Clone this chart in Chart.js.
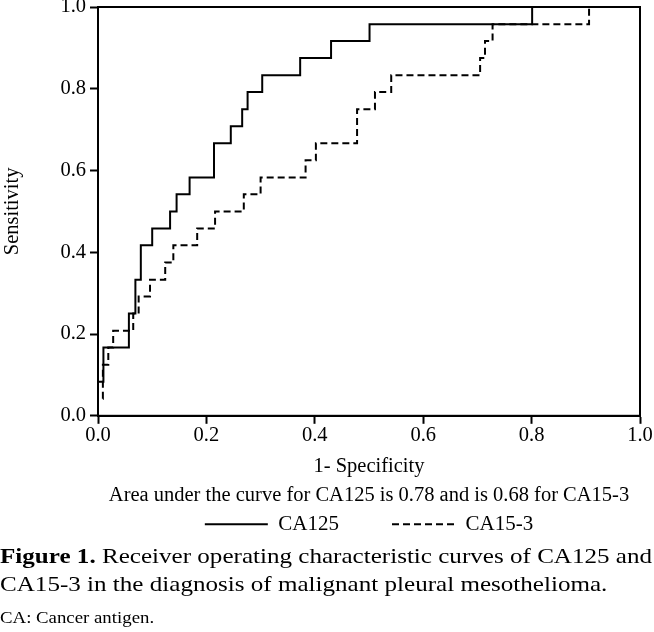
<!DOCTYPE html>
<html>
<head>
<meta charset="utf-8">
<title>ROC curves CA125 / CA15-3</title>
<script src="https://cdn.jsdelivr.net/npm/chart.js@4/dist/chart.umd.min.js"></script>
<style>
  html, body { margin: 0; padding: 0; background: #fff; }
  #box { width: 654px; height: 540px; }
  .cap { font-family: "Liberation Serif", "Times New Roman", serif; color: #000; margin: 0; white-space: nowrap; transform: scaleX(1.14); transform-origin: 0 0; }
  #cap1 { font-size: 22px; line-height: 28px; margin-top: 2px; }
  #cap2 { font-size: 22px; line-height: 28px; }
  #cap3 { font-size: 16.5px; line-height: 20px; margin-top: 10px; }
</style>
</head>
<body>
<div id="box"><canvas id="roc" width="654" height="563"></canvas></div>
<div class="cap" id="cap1"><b>Figure 1.</b> Receiver operating characteristic curves of CA125 and</div>
<div class="cap" id="cap2">CA15-3 in the diagnosis of malignant pleural mesothelioma.</div>
<div class="cap" id="cap3">CA: Cancer antigen.</div>
<script>
// ROC step points (1 - specificity, sensitivity)
const ca125X = [0, 0, 0.010, 0.057, 0.069, 0.079, 0.100, 0.133, 0.145, 0.169, 0.214, 0.245, 0.266, 0.276, 0.303, 0.373, 0.430, 0.501, 0.801, 1.0];
const ca125Y = [0, 0.083, 0.167, 0.250, 0.333, 0.417, 0.458, 0.500, 0.542, 0.583, 0.667, 0.708, 0.750, 0.792, 0.833, 0.875, 0.917, 0.958, 1.0, 1.0];

const ca153X = [0, 0, 0.009, 0.019, 0.028, 0.065, 0.075, 0.096, 0.124, 0.139, 0.183, 0.216, 0.269, 0.300, 0.383, 0.402, 0.478, 0.511, 0.541, 0.705, 0.714, 0.728, 0.906, 1.0];
const ca153Y = [0, 0.042, 0.125, 0.167, 0.208, 0.250, 0.292, 0.333, 0.375, 0.417, 0.458, 0.500, 0.542, 0.583, 0.625, 0.667, 0.750, 0.792, 0.833, 0.875, 0.917, 0.958, 1.0, 1.0];

const seriesNames = ['CA125', 'CA15-3'];
const tickValues = [0, 0.2, 0.4, 0.6, 0.8, 1.0];
const aucText = 'Area under the curve for CA125 is 0.78 and is 0.68 for CA15-3';

const serif = '"Liberation Serif", "Times New Roman", serif';

function toPoints(xs, ys) {
  return xs.map((x, i) => ({ x: x, y: ys[i] }));
}

// plain box round the plot area
const frame = {
  id: 'frame',
  afterDraw(chart) {
    const a = chart.chartArea;
    const ctx = chart.ctx;
    ctx.save();
    ctx.strokeStyle = '#000';
    ctx.lineWidth = 2;
    ctx.strokeRect(a.left, a.top, a.right - a.left, a.bottom - a.top);
    ctx.restore();
  }
};

function axis(titleText, titlePad, tickPad) {
  return {
    type: 'linear',
    min: 0,
    max: 1,
    afterBuildTicks: (s) => { s.ticks = tickValues.map(v => ({ value: v })); },
    ticks: {
      color: '#000',
      font: { family: serif, size: 20.5 },
      padding: tickPad,
      callback: (v) => Number(v).toFixed(1)
    },
    grid: { display: true, drawOnChartArea: false, drawTicks: true, tickLength: 8, tickWidth: 2, tickColor: '#000' },
    border: { display: true, color: '#000', width: 2 },
    title: { display: true, text: titleText, color: '#000', font: { family: serif, size: 20.5 }, padding: titlePad }
  };
}

const xAxis = axis('1- Specificity', { top: 6, bottom: 0 }, 0);
xAxis.afterFit = (s) => { s.paddingLeft = 0; s.paddingRight = 0; };
const yAxis = axis('Sensitivity', { top: 0, bottom: 0 }, 4);
yAxis.afterFit = (s) => { s.width = 98; s.paddingTop = 0; s.paddingBottom = 0; };

new Chart(document.getElementById('roc'), {
  type: 'line',
  data: {
    datasets: [
      {
        label: seriesNames[0],
        data: toPoints(ca125X, ca125Y),
        borderColor: '#000',
        backgroundColor: '#000',
        borderWidth: 2,
        stepped: 'before',
        pointRadius: 0,
        fill: false,
        clip: 4
      },
      {
        label: seriesNames[1],
        data: toPoints(ca153X, ca153Y),
        borderColor: '#000',
        backgroundColor: '#000',
        borderWidth: 2,
        borderDash: [7, 4],
        stepped: 'before',
        pointRadius: 0,
        fill: false,
        clip: 4
      }
    ]
  },
  options: {
    responsive: false,
    animation: false,
    maintainAspectRatio: false,
    layout: { padding: { top: 7, right: 14, left: 0, bottom: 0 } },
    scales: { x: xAxis, y: yAxis },
    plugins: {
      title: {
        display: true,
        position: 'bottom',
        fullSize: false,
        weight: 500,
        text: aucText,
        color: '#000',
        font: { family: serif, size: 20.5, weight: 'normal' },
        // negative bottom pad pulls the legend up under this line
        padding: { top: 4.5, bottom: -47.3 }
      },
      legend: {
        position: 'bottom',
        fullSize: false,
        labels: {
          color: '#000',
          font: { family: serif, size: 21 },
          usePointStyle: true,
          pointStyle: 'line',
          pointStyleWidth: 63,
          padding: 53,
          generateLabels: (chart) => {
            const items = Chart.defaults.plugins.legend.labels.generateLabels(chart);
            return items.map((item, i) => {
              item.lineDash = chart.data.datasets[i].borderDash || [];
              item.lineWidth = 2;
              item.strokeStyle = '#000';
              item.pointStyle = 'line';
              return item;
            });
          }
        }
      },
      tooltip: { enabled: false }
    }
  },
  plugins: [frame]
});
</script>
</body>
</html>
